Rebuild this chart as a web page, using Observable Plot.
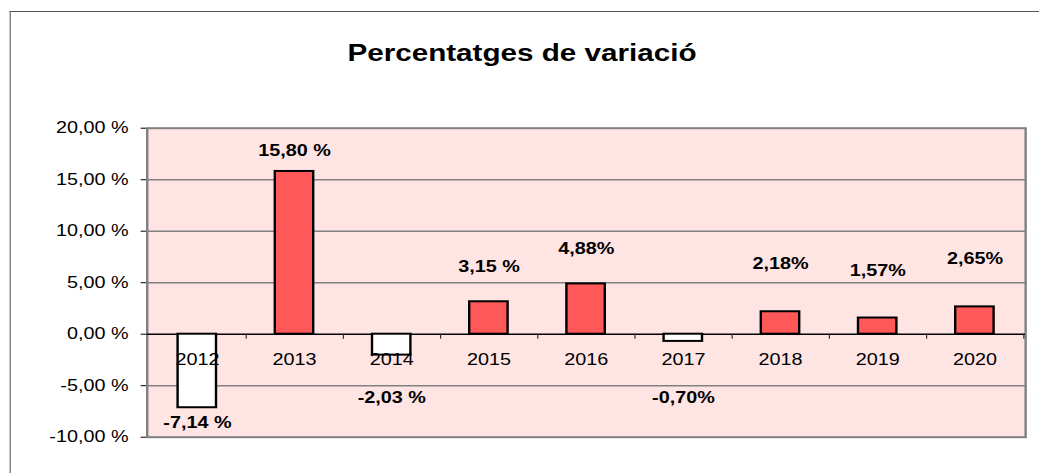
<!DOCTYPE html>
<html>
<head>
<meta charset="utf-8">
<script src="https://cdn.jsdelivr.net/npm/d3@7"></script>
<script src="https://cdn.jsdelivr.net/npm/@observablehq/plot@0.6"></script>
<style>
  html, body { margin: 0; padding: 0; background: #fff; overflow: hidden; width: 1039px; height: 473px; }
  #wrap { position: absolute; left: 0; top: 0; width: 866px; height: 473px; transform: scaleX(1.2); transform-origin: 0 0; }
  #frame { position: absolute; left: 8.3px; top: 10.5px; width: 3000px; height: 3000px; border-top: 1.5px solid #555; border-left: 1.5px solid #666; }
  #title { position: absolute; left: 0; top: 41px; width: 870px; text-align: center; font: bold 24.7px "Liberation Sans", Arial, sans-serif; line-height: 1; color: #000; }
  #chart { position: absolute; left: 0; top: 0; }
</style>
</head>
<body>
<div id="wrap">
  <div id="frame"></div>
  <div id="title">Percentatges de variació</div>
  <div id="chart"></div>
</div>
<script>
const years = ["2012","2013","2014","2015","2016","2017","2018","2019","2020"];
const values = [-7.14, 15.80, -2.03, 3.15, 4.88, -0.70, 2.18, 1.57, 2.65];
const labels = ["-7,14 %","15,80 %","-2,03 %","3,15 %","4,88%","-0,70%","2,18%","1,57%","2,65%"];
const labelAt = [-8.6, 17.8, -6.2, 6.55, 8.3, -6.2, 6.8, 6.2, 7.3];
const yTicks = [-10, -5, 0, 5, 10, 15, 20];
const gridTicks = [-5, 5, 10, 15];

const data = years.map((y, i) => ({year: y, value: values[i], label: labels[i], labelAt: labelAt[i]}));

const W = 866, H = 473, mL = 122.2, mR = 11.8, mT = 127.7, mB = 36.3;
const step = (W - mL - mR) / years.length;
const fmt = v => v.toFixed(2).replace(".", ",") + " %";

const chart = Plot.plot({
  width: W, height: H,
  marginLeft: mL, marginRight: mR, marginTop: mT, marginBottom: mB,
  style: {fontFamily: "'Liberation Sans', Arial, sans-serif", fontSize: "16.5px", background: "transparent", color: "#000", overflow: "visible"},
  x: {domain: years, paddingInner: 0.6, paddingOuter: 0.3, axis: null},
  y: {domain: [-10, 20], ticks: yTicks, tickFormat: fmt, tickSize: 5, tickPadding: 10.6, label: null, line: true},
  marks: [
    Plot.frame({fill: "#FFE4E4", stroke: "#808080", strokeWidth: 2}),
    Plot.ruleY(gridTicks, {stroke: "#808080", strokeWidth: 1.6}),
    Plot.ruleY([0], {stroke: "#000", strokeWidth: 1.5}),
    Plot.ruleX(years, {y1: 0, y2: -0.5, dx: step / 2, stroke: "#333", strokeWidth: 1}),
    Plot.barY(data, {x: "year", y: "value", fill: d => d.value >= 0 ? "#FF5858" : "#FFFFFF", stroke: "#000", strokeWidth: 2}),
    Plot.text(data, {x: "year", y: 0, text: "year", dy: 25.5, fontSize: 16.5, fill: "#000"}),
    Plot.text(data, {x: "year", y: "labelAt", text: "label", fontWeight: "bold", fontSize: 16.5, fill: "#000"})
  ]
});
document.getElementById("chart").appendChild(chart);
</script>
</body>
</html>
